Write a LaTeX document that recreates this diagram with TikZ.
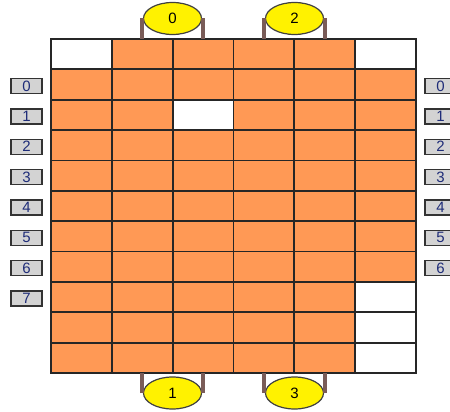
\documentclass[tikz,border=0pt]{standalone}
\usepackage{fontspec}
\setmainfont{Liberation Sans}
\usetikzlibrary{shapes.geometric}
\definecolor{cellorange}{HTML}{FF9955}
\definecolor{tabgray}{HTML}{D3D3D3}
\definecolor{leadbrown}{HTML}{7A5C58}
\definecolor{tabblue}{HTML}{1E2C78}

\begin{document}
\begin{tikzpicture}[
  x=1pt, y=-1pt,
  cell/.style={draw=black!85, line width=1.8pt, fill=cellorange,
               minimum width=60.83pt, minimum height=30.36pt,
               inner sep=0pt, outer sep=0pt},
  hole/.style={cell, fill=white},
  tab/.style={draw=black!80, line width=1.4pt, fill=tabgray,
              minimum width=31pt, minimum height=15pt, inner sep=0pt,
              font=\fontsize{15}{15}\selectfont, text=tabblue},
  port/.style={ellipse, draw=black!75, line width=1.2pt, fill=yellow,
               minimum width=58pt, minimum height=32pt, inner sep=0pt,
               font=\fontsize{15}{15}\selectfont},
  lead/.style={draw=leadbrown, line width=3.5pt}
]
\useasboundingbox (0,0) rectangle (450,412);
% grid of cells
\foreach \r in {0,...,10}
  \foreach \c in {0,...,5}
    \node[cell] (c-\r-\c) at ({51+60.83*(\c+0.5)},{39+30.36*(\r+0.5)}) {};
\foreach \r/\c in {0/0,0/5,2/2,8/5,9/5,10/5}
  \node[hole] (h-\r-\c) at (c-\r-\c) {};
% row tabs
\foreach \i in {0,...,7}
  \node[tab] (l\i) at (26.5,{39+30.36*(\i+1.5)+1.5}) {\i};
\foreach \i in {0,...,6}
  \node[tab] (r\i) at (440.5,{39+30.36*(\i+1.5)+1.5}) {\i};
% ports
\node[port] (p0) at (172.5,18.5) {0};
\node[port] (p2) at (294.5,18.5) {2};
\node[port] (p1) at (172.5,393) {1};
\node[port] (p3) at (294.5,393) {3};
\foreach \p/\s in {p0/c-0-1,p2/c-0-3}{
  \draw[lead] ([xshift=-30.5pt]\p.center) -- ([xshift=-30.5pt]\p.center |- \s.north);
  \draw[lead] ([xshift=30.5pt]\p.center) -- ([xshift=30.5pt]\p.center |- \s.north);
}
\foreach \p/\s in {p1/c-10-1,p3/c-10-3}{
  \draw[lead] ([xshift=-30.5pt]\p.center) -- ([xshift=-30.5pt]\p.center |- \s.south);
  \draw[lead] ([xshift=30.5pt]\p.center) -- ([xshift=30.5pt]\p.center |- \s.south);
}
\end{tikzpicture}
\end{document}
